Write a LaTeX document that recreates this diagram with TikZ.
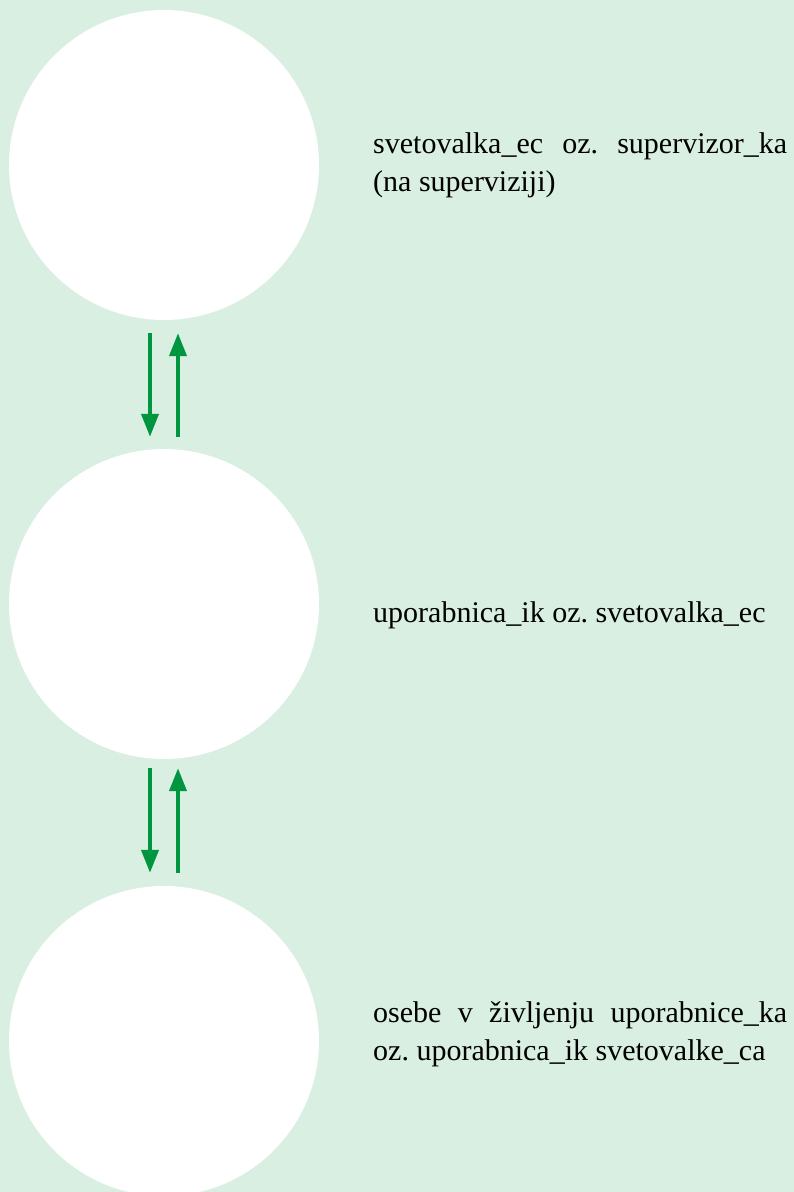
\documentclass[tikz,border=0pt]{standalone}
\usepackage{fontspec}
\setmainfont{Liberation Serif}
\usetikzlibrary{arrows.meta,calc}
\definecolor{bgmint}{HTML}{D9EFE2}
\definecolor{arrgreen}{HTML}{00963F}
\frenchspacing
\begin{document}
\begin{tikzpicture}[x=1pt,y=-1pt,
  ring/.style={circle,fill=white,draw=none,minimum size=310pt,inner sep=0pt},
  arr/.style={draw=arrgreen,line width=4pt,-{Triangle[length=23pt,width=17pt]}},
  lbl/.style={anchor=base west,inner sep=0pt,font=\fontsize{30}{38}\selectfont\frenchspacing,text width=414pt,align=justify}]
\fill[bgmint] (0,0) rectangle (794,1192);
\useasboundingbox (0,0) rectangle (794,1192);
\node[ring] (c1) at (164,165) {};
\node[ring] (c2) at (164,604) {};
\node[ring] (c3) at (164,1041) {};
\draw[arr,shorten <=13pt,shorten >=12pt] ([xshift=-14pt]c1.south) -- ([xshift=-14pt]c2.north);
\draw[arr,shorten <=12pt,shorten >=13pt] ([xshift=14pt]c2.north) -- ([xshift=14pt]c1.south);
\draw[arr,shorten <=9pt,shorten >=13pt] ([xshift=-14pt]c2.south) -- ([xshift=-14pt]c3.north);
\draw[arr,shorten <=13pt,shorten >=9pt] ([xshift=14pt]c3.north) -- ([xshift=14pt]c2.south);
\node[lbl] (t1) at (373,153) {svetovalka\_ec oz. supervizor\_ka\linebreak (na superviziji)};
\node[lbl] (t2) at (373,622) {uporabnica\_ik oz. svetovalka\_ec};
\node[lbl] (t3) at (373,1022) {osebe v življenju uporabnice\_ka\linebreak oz. uporabnica\_ik svetovalke\_ca};
\end{tikzpicture}
\end{document}
